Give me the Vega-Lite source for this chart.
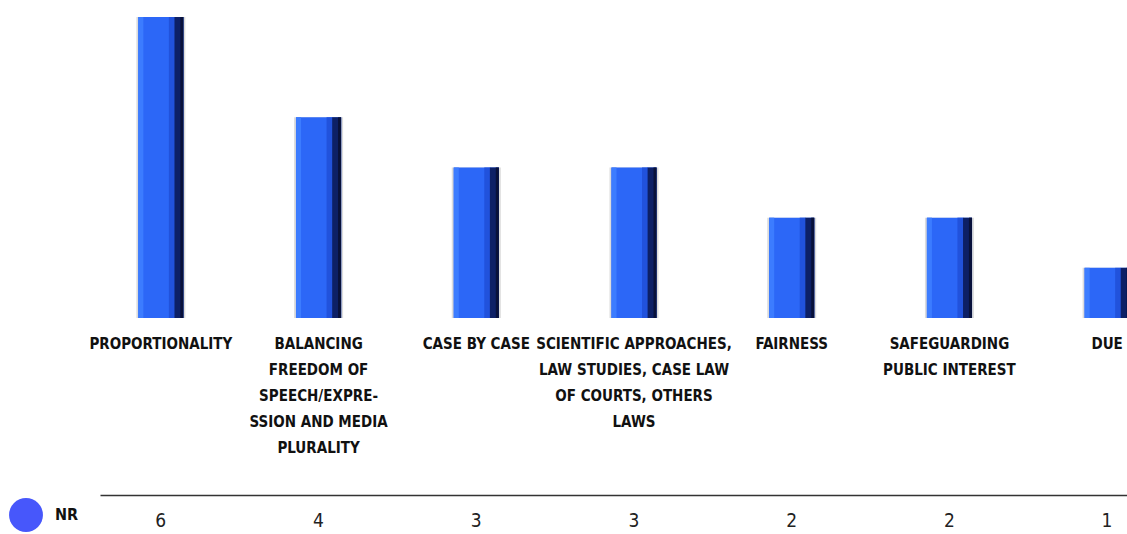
{
  "$schema": "https://vega.github.io/schema/vega-lite/v6.json",
  "autosize": {"type": "pad"},
  "padding": {"left": 9, "top": 17, "right": 0, "bottom": 0},
  "background": "white",
  "bounds": "flush",
  "spacing": 177,
  "config": {"view": {"stroke": null}},
  "data": {"values": [
    {"category": "PROPORTIONALITY", "value": 6, "series": "NR"},
    {"category": "BALANCING|FREEDOM OF|SPEECH/EXPRE-|SSION AND MEDIA|PLURALITY", "value": 4, "series": "NR"},
    {"category": "CASE BY CASE", "value": 3, "series": "NR"},
    {"category": "SCIENTIFIC APPROACHES,|LAW STUDIES, CASE LAW|OF COURTS, OTHERS|LAWS", "value": 3, "series": "NR"},
    {"category": "FAIRNESS", "value": 2, "series": "NR"},
    {"category": "SAFEGUARDING|PUBLIC INTEREST", "value": 2, "series": "NR"},
    {"category": "DUE", "value": 1, "series": "NR"}
  ]},
  "resolve": {"scale": {"x": "independent", "color": "independent"}},
  "vconcat": [
    {
      "width": 1045,
      "height": 301,
      "encoding": {
        "x": {
          "field": "category",
          "type": "nominal",
          "sort": null,
          "scale": {"type": "band", "range": [0, 1104], "paddingInner": 0.713, "paddingOuter": 0.3565},
          "axis": {
            "title": null,
            "domain": false,
            "ticks": false,
            "grid": false,
            "labelAngle": 0,
            "labelFont": "DejaVu Sans Condensed, sans-serif",
            "labelFontSize": 15,
            "labelFontWeight": "bold",
            "labelColor": "#111111",
            "labelLimit": 0,
            "labelPadding": 18,
            "labelLineHeight": 26,
            "labelBaseline": "top",
            "labelOverlap": false,
            "labelBound": false,
            "labelExpr": "split(datum.label, '|')"
          }
        },
        "y": {
          "field": "value",
          "type": "quantitative",
          "scale": {"domain": [0, 6], "nice": false, "zero": true},
          "axis": null
        }
      },
      "layer": [
        {
          "mark": {"type": "bar", "clip": true, "width": 49, "color": "#c4c4c4", "opacity": 0.6, "filled": true}
        },
        {
          "mark": {"type": "bar", "clip": true, "color": "#2c67f7", "filled": true, "opacity": 1}
        },
        {
          "mark": {"type": "bar", "clip": true, "width": 5, "xOffset": -20, "color": "#3c7cff", "filled": true}
        },
        {
          "mark": {"type": "bar", "clip": true, "width": 6, "xOffset": 11, "color": "#2152dc", "filled": true}
        },
        {
          "mark": {"type": "bar", "clip": true, "width": 9, "xOffset": 18.1, "color": "#0d2066", "filled": true}
        },
        {
          "mark": {"type": "bar", "clip": true, "width": 3, "xOffset": 21, "color": "#08113a", "filled": true}
        }
      ]
    },
    {
      "width": 1045,
      "height": 39,
      "encoding": {
        "x": {
          "field": "category",
          "type": "nominal",
          "sort": null,
          "scale": {"type": "point", "range": [18, 1045], "padding": 0.256, "align": 0.753},
          "axis": {
            "orient": "top",
            "title": null,
            "domain": true,
            "domainColor": "#333333",
            "domainWidth": 1.5,
            "ticks": false,
            "labels": false,
            "grid": false
          }
        }
      },
      "layer": [
        {
          "mark": {"type": "point", "filled": true, "opacity": 0},
          "encoding": {
            "color": {
              "field": "series",
              "type": "nominal",
              "scale": {"domain": ["NR"], "range": ["#4757fb"]},
              "legend": {
                "orient": "none",
                "legendX": -73,
                "legendY": 3,
                "title": null,
                "padding": 0,
                "symbolType": "circle",
                "symbolSize": 1150,
                "symbolOpacity": 1,
                "symbolStrokeWidth": 0,
                "labelFont": "DejaVu Sans Condensed, sans-serif",
                "labelFontSize": 16,
                "labelFontWeight": "bold",
                "labelColor": "#111111",
                "labelOffset": 12
              }
            }
          }
        },
        {
          "mark": {
            "type": "text",
            "font": "DejaVu Sans Condensed, sans-serif",
            "fontSize": 19,
            "color": "#222222",
            "baseline": "middle",
            "dy": 6
          },
          "encoding": {
            "text": {"field": "value", "type": "quantitative"}
          }
        }
      ]
    }
  ]
}
